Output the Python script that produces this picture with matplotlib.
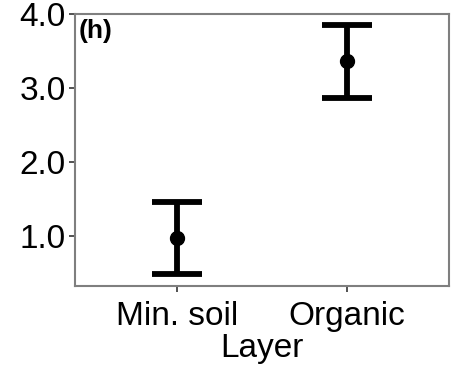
import matplotlib
matplotlib.use("Agg")
import matplotlib.pyplot as plt

layers = ["Min. soil", "Organic"]
means = [0.965, 3.37]
lower = [0.48, 2.87]
upper = [1.45, 3.85]
y_ticks = [1.0, 2.0, 3.0, 4.0]
y_tick_labels = ["1.0", "2.0", "3.0", "4.0"]

plt.rcParams["font.family"] = ["Liberation Sans", "DejaVu Sans"]

fig = plt.figure(figsize=(4.55, 3.79), dpi=100)
ax = fig.add_axes([75 / 455, 1 - 286 / 379, 374 / 455, 272 / 379])

x = list(range(1, len(layers) + 1))
yerr = [[m - lo for m, lo in zip(means, lower)],
        [hi - m for m, hi in zip(means, upper)]]
ax.errorbar(x, means, yerr=yerr, fmt="o", color="black", markersize=10,
            elinewidth=4.2, capsize=18, capthick=4.2)

ax.set_xlim(0.4, 2.6)
ax.set_ylim(0.32, 4.0)
ax.set_xticks(x)
ax.set_xticklabels(layers)
ax.set_yticks(y_ticks)
ax.set_yticklabels(y_tick_labels)
ax.set_xlabel("Layer", fontsize=24, labelpad=1)

for s in ax.spines.values():
    s.set_color("#7f7f7f")
    s.set_linewidth(1.5)
ax.tick_params(axis="both", length=4.5, width=1.2, color="#333333",
               labelsize=24, labelcolor="black", pad=2)
ax.tick_params(axis="x", pad=6)

ax.text(0.01, 0.98, "(h)", transform=ax.transAxes, fontsize=19,
        fontweight="bold", va="top", ha="left")

fig.savefig("out.png", dpi=100)
